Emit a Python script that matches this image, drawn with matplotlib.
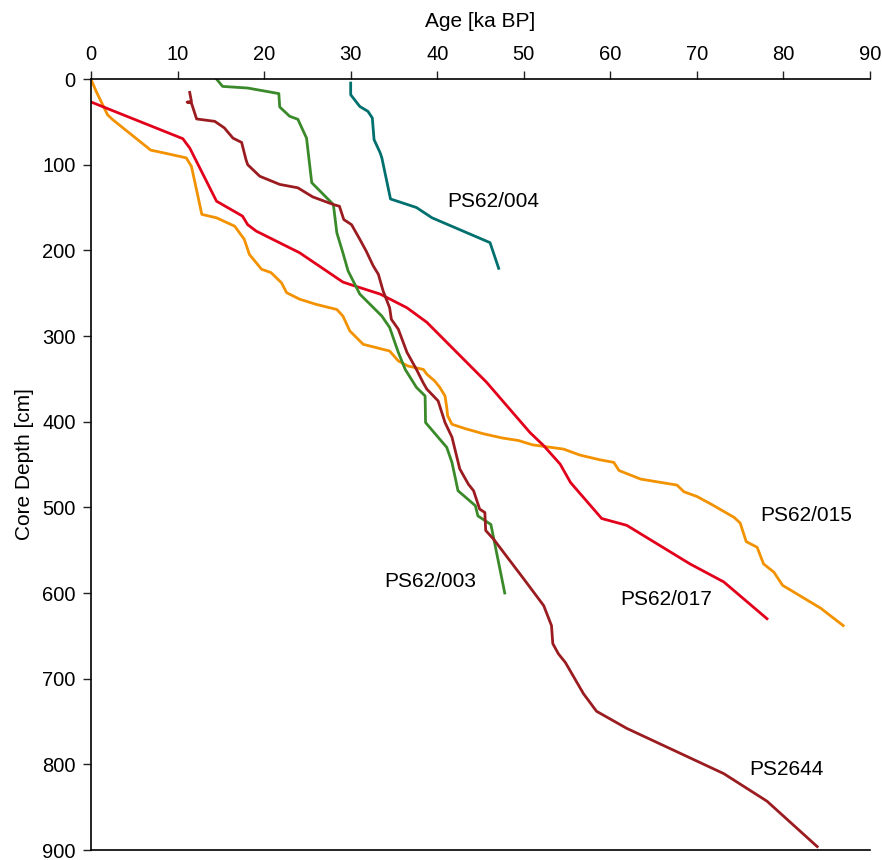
import numpy as np
import matplotlib.pyplot as plt

plt.rcParams['font.family'] = ['Liberation Sans', 'DejaVu Sans']

# age [ka BP] vs core depth [cm] for each core
ps62_004_age = [30.0, 30.0, 31.05, 32.0, 32.5, 32.7, 33.4, 33.6, 34.6, 37.6, 39.4, 46.1, 47.1]
ps62_004_depth = [4.7, 18.3, 32, 37.8, 45.5, 70.7, 86, 92, 140, 150, 162, 191, 221]

ps62_003_age = [14.5, 15.2, 18.1, 21.7, 21.8, 22.95, 23.9, 24.9, 25.5, 28.0, 28.4, 29.1,
                29.7, 31.05, 33.6, 34.5, 35.5, 36.3, 37.6, 38.6, 38.65, 41.1, 41.7, 42.4,
                44.4, 44.7, 46.2, 47.8]
ps62_003_depth = [0, 8.6, 10.5, 17, 32.6, 43.5, 47, 69, 121, 146.5, 179.5, 202.8,
                  224, 251, 276.7, 290, 319, 339, 360, 370, 401, 430, 447.5, 480.6,
                  498, 510, 520, 600]

ps2644_age = [11.4, 11.6, 11.1, 11.6, 12.2, 14.3, 15.4, 16.4, 17.4, 17.9, 18.1, 19.5, 21.8,
              23.9, 25.6, 28.0, 28.7, 29.2, 30.1, 31.05, 31.8, 32.6, 33.2, 33.75, 34.5,
              34.7, 35.5, 36.5, 37.6, 38.4, 38.8, 40.1, 40.9, 41.7, 42.6, 43.6, 44.2,
              44.9, 45.5, 45.6, 46.5, 50.0, 52.3, 53.2, 53.35, 54.0, 54.8, 56.9, 58.4,
              61.9, 73.1, 78.1, 83.9]
ps2644_depth = [15.6, 26, 27, 28, 46.6, 49.4, 57, 69, 74, 94, 100, 113.5, 123,
                127, 137.5, 146.5, 148.5, 164, 170, 187, 201, 218, 228, 247.5, 267,
                280.5, 292, 319, 339, 355, 362, 375.7, 401, 418, 455, 473, 480.6,
                502, 506, 527, 537, 583.6, 614.7, 638, 659, 671, 681, 717.6, 738,
                758, 810.8, 843, 896]

ps62_017_age = [0.0, 10.6, 11.4, 14.5, 17.5, 18.1, 19.1, 24.1, 29.1, 30.3, 33.4, 36.5,
                38.8, 45.7, 50.7, 52.3, 54.2, 55.4, 59.0, 61.9, 69.2, 73.1, 78.1]
ps62_017_depth = [26.8, 69.6, 80.4, 142.6, 160, 170, 177.6, 202.8, 237, 241, 251, 267,
                  284, 354, 412.5, 428, 449.5, 471, 513, 521, 566, 587, 630]

ps62_015_age = [0.1, 0.6, 1.9, 2.5, 6.9, 8.3, 11.0, 11.6, 12.35, 12.8, 14.5, 16.6, 17.7,
                18.3, 19.7, 20.8, 22.0, 22.6, 24.1, 26.0, 28.4, 29.1, 29.9, 31.45, 34.5,
                35.5, 36.6, 38.4, 38.8, 39.7, 40.3, 40.9, 41.1, 41.2, 41.7, 43.2, 45.3,
                47.5, 49.4, 51.0, 54.6, 56.5, 58.8, 60.4, 61.0, 63.5, 67.7, 68.5, 70.0,
                71.6, 74.3, 75.0, 75.7, 76.96, 77.7, 78.9, 79.9, 84.3, 86.9]
ps62_015_depth = [2.8, 14.5, 41.6, 47.4, 83, 86, 92, 101.9, 136.8, 158, 162, 171.8, 187,
                  204.8, 222, 226, 237.8, 249.4, 257, 263, 269, 276.7, 294, 309.7, 317.5,
                  329, 335, 339, 344.6, 352.4, 360, 370, 383.5, 393, 403, 408, 414,
                  419, 422, 427, 432, 439, 444.5, 447.5, 457, 467, 474, 481.8, 487.3,
                  496, 511.7, 518.3, 540, 546.6, 566, 575.7, 591, 617.7, 638]

labels = ['PS62/004', 'PS62/015', 'PS62/003', 'PS62/017', 'PS2644']
label_age = [41.2, 77.3, 33.9, 61.1, 76.1]
label_depth = [143, 510, 586, 608, 806]

fig = plt.figure(figsize=(8.82, 8.60), dpi=100)
ax = fig.add_axes([0.1032, 0.0116, 0.8832, 0.8965])

lw = 2.0
ax.plot(ps62_015_age, ps62_015_depth, color='#f39200', lw=lw)
ax.plot(ps62_017_age, ps62_017_depth, color='#e2001a', lw=lw)
ax.plot(ps62_003_age, ps62_003_depth, color='#3a8a2a', lw=lw)
ax.plot(ps2644_age, ps2644_depth, color='#9b1c20', lw=lw)
ax.plot(ps62_004_age, ps62_004_depth, color='#00706e', lw=lw)

for lab, a, d in zip(labels, label_age, label_depth):
    ax.text(a, d, lab, fontsize=15, va='center', ha='left')

ax.set_xlim(0, 90)
ax.set_ylim(900, 0)
ax.set_xticks(np.arange(0, 91, 10))
ax.set_yticks(np.arange(0, 901, 100))
ax.xaxis.tick_top()
ax.xaxis.set_label_position('top')
ax.set_xlabel('Age [ka BP]', fontsize=15, labelpad=13)
ax.set_ylabel('Core Depth [cm]', fontsize=15, labelpad=6)
ax.tick_params(labelsize=14.5, length=6, width=1, direction='out', color='#222222', pad=5)
ax.spines['right'].set_visible(False)
for s in ['top', 'left', 'bottom']:
    ax.spines[s].set_linewidth(1.2)

fig.savefig('out.png', dpi=100)
